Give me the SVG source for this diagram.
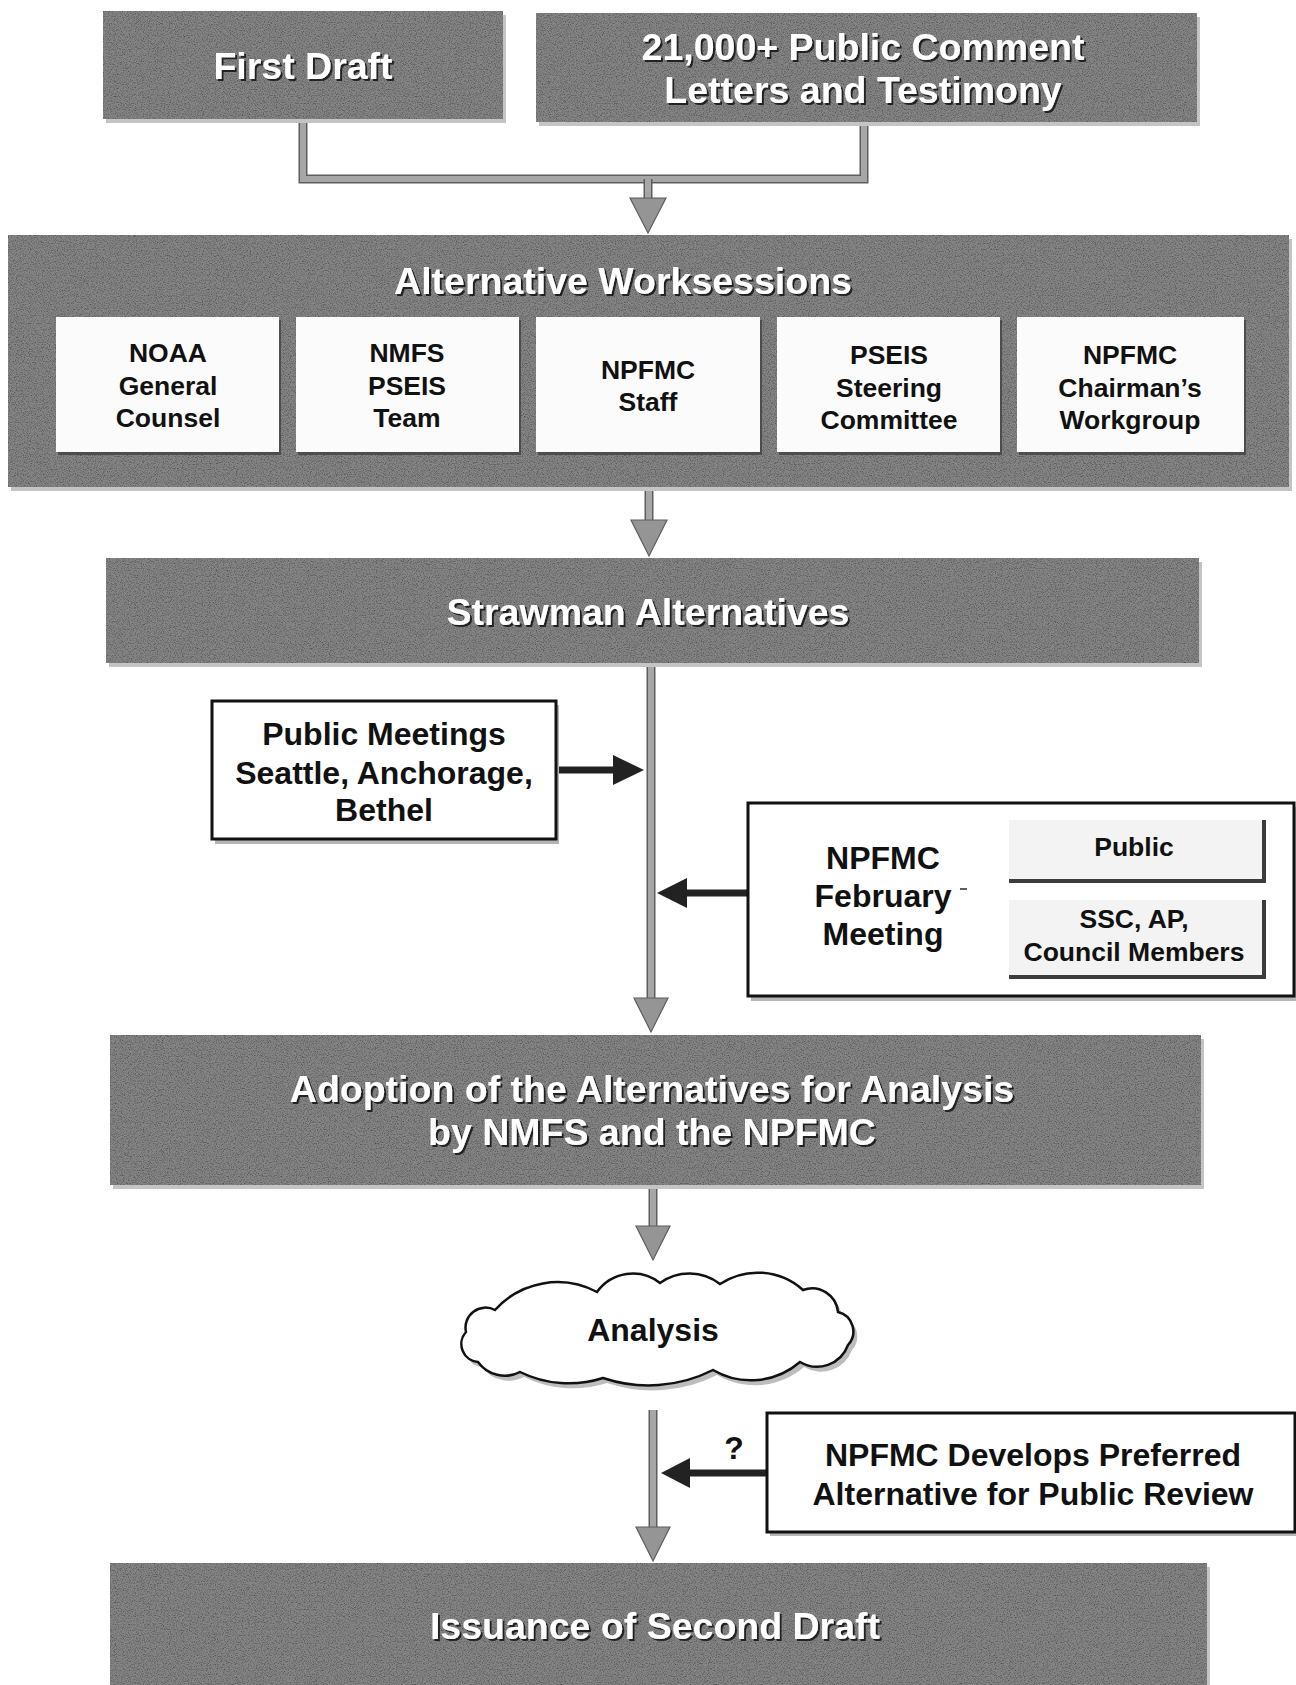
<svg xmlns="http://www.w3.org/2000/svg" width="1296" height="1685" viewBox="0 0 1296 1685">
<style>
  .gbox { fill: #848484; filter: url(#grain); }
  .gshadow { fill: #c4c4c4; }
  .ttl { font-family: "Liberation Sans", Arial, sans-serif; font-weight: bold; font-size: 37.5px; fill: #ffffff; text-anchor: middle; filter: url(#tshadow); }
  .sub { font-family: "Liberation Sans", Arial, sans-serif; font-weight: bold; font-size: 26.5px; fill: #111111; text-anchor: middle; }
  .mid { font-family: "Liberation Sans", Arial, sans-serif; font-weight: bold; font-size: 32px; fill: #111111; text-anchor: middle; }
  .wbox { fill: #fbfbfb; }
  .wshadow { fill: #4d4d4d; }
  .obox { fill: #ffffff; stroke: #111111; stroke-width: 3; }
  .oshadow { fill: #b5b5b5; }
  .panel { fill: #f3f3f3; }
  .pedge { fill: #3c3c3c; }
  .gline-o { fill: none; stroke: #5e5e5e; stroke-width: 9; }
  .gline-i { fill: none; stroke: #a6a6a6; stroke-width: 6; }
  .ghead { fill: #959595; stroke: #5e5e5e; stroke-width: 1.2; }
  .dline { fill: none; stroke: #222222; stroke-width: 7; }
  .dhead { fill: #222222; }
</style>
<defs>
  <filter id="grain" x="0" y="0" width="100%" height="100%" color-interpolation-filters="sRGB">
    <feTurbulence type="fractalNoise" baseFrequency="0.85" numOctaves="2" seed="7" result="n"/>
    <feColorMatrix in="n" type="matrix" values="1 0 0 0 0  1 0 0 0 0  1 0 0 0 0  0 0 0 0 1" result="g"/>
    <feComponentTransfer in="g" result="gs">
      <feFuncR type="linear" slope="0.9" intercept="0.5"/>
      <feFuncG type="linear" slope="0.9" intercept="0.5"/>
      <feFuncB type="linear" slope="0.9" intercept="0.5"/>
    </feComponentTransfer>
    <feBlend in="SourceGraphic" in2="gs" mode="multiply" result="b"/>
    <feComposite in="b" in2="SourceAlpha" operator="in"/>
  </filter>
  <filter id="tshadow" x="-5%" y="-20%" width="110%" height="150%">
    <feDropShadow dx="2" dy="2" stdDeviation="0.7" flood-color="#1a1a1a" flood-opacity="0.95"/>
  </filter>
</defs>
<rect x="0" y="0" width="1296" height="1685" fill="#ffffff"/>

<g id="connectors">
  <path class="gline-o" d="M303 119 V179 H864 V122"/>
  <path class="gline-i" d="M303 119 V179 H864 V122"/>
  <path class="gline-o" d="M648 179 V200"/>
  <path class="gline-i" d="M648 179 V200"/>
  <polygon class="ghead" points="630,198 666,198 648,233"/>
  <path class="gline-o" d="M649 487 V522"/>
  <path class="gline-i" d="M649 487 V522"/>
  <polygon class="ghead" points="631,520 667,520 649,556"/>
  <path class="gline-o" d="M651 663 V1000"/>
  <path class="gline-i" d="M651 663 V1000"/>
  <polygon class="ghead" points="634,998 668,998 651,1032"/>
  <path class="gline-o" d="M653 1185 V1228"/>
  <path class="gline-i" d="M653 1185 V1228"/>
  <polygon class="ghead" points="636,1226 670,1226 653,1260"/>
  <path class="gline-o" d="M653 1410 V1529"/>
  <path class="gline-i" d="M653 1410 V1529"/>
  <polygon class="ghead" points="636,1527 670,1527 653,1561"/>
  <path class="dline" d="M556 770 H616"/>
  <polygon class="dhead" points="613,755 644,770 613,785"/>
  <path class="dline" d="M747 893 H684"/>
  <polygon class="dhead" points="687,878 657,893 687,908"/>
  <path class="dline" d="M767 1473 H688"/>
  <polygon class="dhead" points="690,1458 661,1473 690,1488"/>
</g>

<g id="first-draft">
  <rect class="gshadow" x="106" y="15" width="400" height="108"/>
  <rect class="gbox" x="103" y="11" width="400" height="108"/>
  <text class="ttl" x="303" y="79">First Draft</text>
</g>

<g id="public-comment">
  <rect class="gshadow" x="539" y="17" width="661" height="109"/>
  <rect class="gbox" x="536" y="13" width="661" height="109"/>
  <text class="ttl" x="863" y="60">21,000+ Public Comment</text>
  <text class="ttl" x="863" y="103">Letters and Testimony</text>
</g>

<g id="alternative-worksessions">
  <rect class="gshadow" x="11" y="239" width="1281" height="252"/>
  <rect class="gbox" x="8" y="235" width="1281" height="252"/>
  <text class="ttl" x="623" y="294">Alternative Worksessions</text>
  <g id="noaa-general-counsel">
    <rect class="wshadow" x="58" y="320" width="223" height="135"/>
    <rect class="wbox" x="56" y="317" width="223" height="135"/>
    <text class="sub" x="168" y="362">NOAA</text>
    <text class="sub" x="168" y="395">General</text>
    <text class="sub" x="168" y="427">Counsel</text>
  </g>
  <g id="nmfs-pseis-team">
    <rect class="wshadow" x="298" y="320" width="223" height="135"/>
    <rect class="wbox" x="296" y="317" width="223" height="135"/>
    <text class="sub" x="407" y="362">NMFS</text>
    <text class="sub" x="407" y="395">PSEIS</text>
    <text class="sub" x="407" y="427">Team</text>
  </g>
  <g id="npfmc-staff">
    <rect class="wshadow" x="538" y="320" width="224" height="135"/>
    <rect class="wbox" x="536" y="317" width="224" height="135"/>
    <text class="sub" x="648" y="379">NPFMC</text>
    <text class="sub" x="648" y="411">Staff</text>
  </g>
  <g id="pseis-steering-committee">
    <rect class="wshadow" x="779" y="320" width="223" height="135"/>
    <rect class="wbox" x="777" y="317" width="223" height="135"/>
    <text class="sub" x="889" y="364">PSEIS</text>
    <text class="sub" x="889" y="397">Steering</text>
    <text class="sub" x="889" y="429">Committee</text>
  </g>
  <g id="npfmc-chairmans-workgroup">
    <rect class="wshadow" x="1019" y="320" width="227" height="135"/>
    <rect class="wbox" x="1017" y="317" width="227" height="135"/>
    <text class="sub" x="1130" y="364">NPFMC</text>
    <text class="sub" x="1130" y="397">Chairman’s</text>
    <text class="sub" x="1130" y="429">Workgroup</text>
  </g>
</g>

<g id="strawman-alternatives">
  <rect class="gshadow" x="109" y="562" width="1093" height="105"/>
  <rect class="gbox" x="106" y="558" width="1093" height="105"/>
  <text class="ttl" x="648" y="625">Strawman Alternatives</text>
</g>

<g id="public-meetings">
  <rect class="oshadow" x="215" y="705" width="344" height="139"/>
  <rect class="obox" x="212" y="701" width="344" height="138"/>
  <text class="mid" x="384" y="745">Public Meetings</text>
  <text class="mid" x="384" y="784">Seattle, Anchorage,</text>
  <text class="mid" x="384" y="821">Bethel</text>
</g>

<g id="npfmc-february-meeting">
  <rect class="oshadow" x="751" y="807" width="548" height="194"/>
  <rect class="obox" x="748" y="803" width="546" height="193"/>
  <text class="mid" x="883" y="869">NPFMC</text>
  <text class="mid" x="883" y="907">February</text>
  <text class="mid" x="883" y="945">Meeting</text>
  <path d="M960 889 H967" stroke="#333333" stroke-width="1.6"/>
  <g id="panel-public">
    <rect class="panel" x="1009" y="820" width="256" height="60"/>
    <rect class="pedge" x="1262" y="820" width="4" height="63"/>
    <rect class="pedge" x="1009" y="879" width="257" height="4"/>
    <text class="sub" x="1134" y="856">Public</text>
  </g>
  <g id="panel-ssc">
    <rect class="panel" x="1009" y="900" width="256" height="76"/>
    <rect class="pedge" x="1262" y="900" width="4" height="79"/>
    <rect class="pedge" x="1009" y="975" width="257" height="4"/>
    <text class="sub" x="1134" y="928">SSC, AP,</text>
    <text class="sub" x="1134" y="961">Council Members</text>
  </g>
</g>

<g id="adoption">
  <rect class="gshadow" x="113" y="1039" width="1091" height="150"/>
  <rect class="gbox" x="110" y="1035" width="1091" height="150"/>
  <text class="ttl" x="652" y="1102">Adoption of the Alternatives for Analysis</text>
  <text class="ttl" x="652" y="1145">by NMFS and the NPFMC</text>
</g>

<g id="analysis">
  <path transform="translate(4,5)" fill="#bdbdbd" d="M478 1362 A18 18 0 0 1 466 1332 A20 20 0 0 1 495 1310 A84 84 0 0 1 597 1292 A44 44 0 0 1 660 1283 A50 50 0 0 1 720 1284 A68 68 0 0 1 803 1290 A26 26 0 0 1 838 1312 A20 20 0 0 1 848 1345 A33 33 0 0 1 800 1362 A75 75 0 0 1 713 1370 A143 143 0 0 1 603 1378 A111 111 0 0 1 520 1372 A33 33 0 0 1 478 1362 Z"/>
  <path fill="#ffffff" stroke="#111111" stroke-width="2.5" d="M478 1362 A18 18 0 0 1 466 1332 A20 20 0 0 1 495 1310 A84 84 0 0 1 597 1292 A44 44 0 0 1 660 1283 A50 50 0 0 1 720 1284 A68 68 0 0 1 803 1290 A26 26 0 0 1 838 1312 A20 20 0 0 1 848 1345 A33 33 0 0 1 800 1362 A75 75 0 0 1 713 1370 A143 143 0 0 1 603 1378 A111 111 0 0 1 520 1372 A33 33 0 0 1 478 1362 Z"/>
  <text class="mid" x="653" y="1341">Analysis</text>
</g>

<g id="preferred-alternative">
  <text class="mid" x="734" y="1459" font-size="30">?</text>
  <rect class="oshadow" x="770" y="1417" width="530" height="119"/>
  <rect class="obox" x="767" y="1413" width="528" height="119"/>
  <text class="mid" x="1033" y="1466">NPFMC Develops Preferred</text>
  <text class="mid" x="1033" y="1505">Alternative for Public Review</text>
</g>

<g id="second-draft">
  <rect class="gshadow" x="113" y="1567" width="1097" height="130"/>
  <rect class="gbox" x="110" y="1563" width="1097" height="130"/>
  <text class="ttl" x="655" y="1639">Issuance of Second Draft</text>
</g>
</svg>
